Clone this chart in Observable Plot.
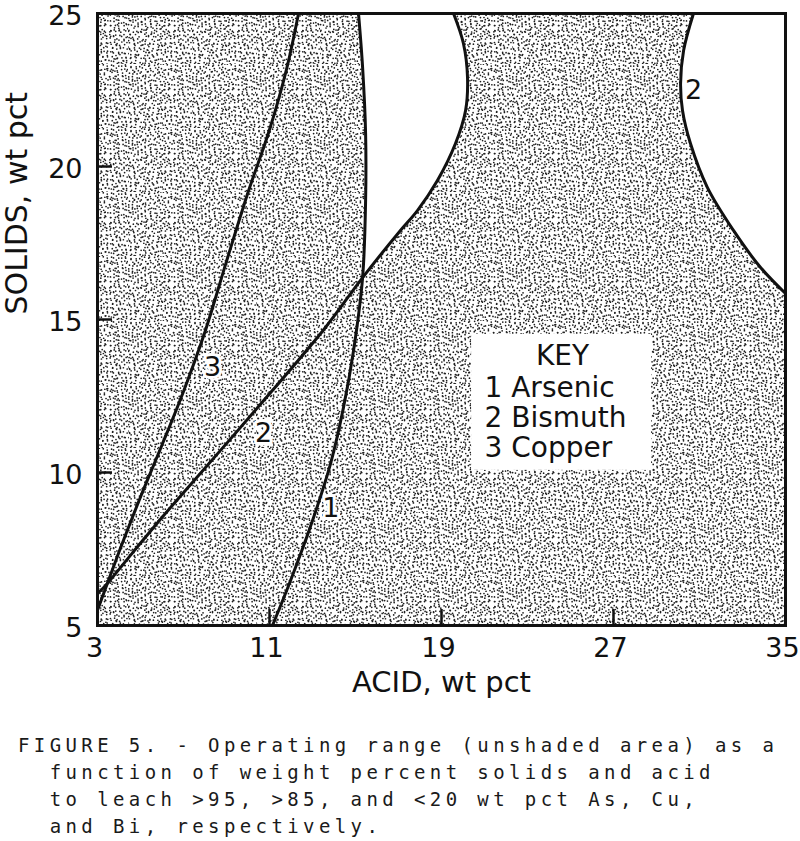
<!DOCTYPE html>
<html>
<head>
<meta charset="utf-8">
<script src="https://cdn.jsdelivr.net/npm/d3@7"></script>
<script src="https://cdn.jsdelivr.net/npm/@observablehq/plot@0.6"></script>
<style>
  html, body { margin: 0; padding: 0; background: #fff; }
  #chart svg { display: block; }
  #caption {
    font-family: "DejaVu Sans Mono", "Liberation Mono", monospace;
    font-size: 19px;
    letter-spacing: 4.4px;
    line-height: 27px;
    color: #1a1a1a;
    white-space: pre;
    padding: 22px 0 0 18px;
  }
</style>
</head>
<body>
<svg width="0" height="0" style="position:absolute">
  <defs><pattern id="stip" patternUnits="userSpaceOnUse" width="64" height="64"></pattern></defs>
</svg>
<div id="chart"></div>
<div id="caption"></div>
<script>
// ---------- data ----------
const xDomain = [3, 35];
const yDomain = [5, 25];
const xTicks = [3, 11, 19, 27, 35];
const yTicks = [5, 10, 15, 20, 25];

// Curve 1: Arsenic
const arsenicX = [11.14, 11.98, 13.05, 13.84, 14.44, 14.91, 15.33, 15.47, 15.47, 15.33, 15.14];
const arsenicY = [5, 6.47, 8.53, 10.29, 12.12, 13.99, 16.37, 18.89, 21.08, 23.24, 25];

// Curve 2: Bismuth (left branch)
const bismuthX = [3, 3.3, 4.6, 5.9, 7.2, 10.3, 13.5, 15.33, 17.09, 17.88, 18.81, 19.65, 20.12, 20.21, 20.02, 19.56];
const bismuthY = [6.05, 6.25, 7.35, 8.45, 9.5, 12.0, 14.65, 16.37, 17.91, 18.56, 19.54, 20.75, 21.83, 22.91, 24.02, 25];

// Curve 2: Bismuth (right branch)
const bismuthRightX = [30.72, 30.26, 30.12, 30.21, 30.58, 31.37, 32.58, 33.84, 35];
const bismuthRightY = [25, 23.79, 22.71, 21.83, 20.75, 19.31, 17.91, 16.70, 15.85];

// Curve 3: Copper
const copperX = [3, 4, 5, 6, 7, 8, 9, 10, 11, 11.8, 12.35];
const copperY = [5.5, 7.4, 9.2, 10.9, 12.65, 14.6, 16.9, 19.15, 21.2, 23.2, 25];

// Curve number labels
const curveLabelText = ["1", "2", "3", "2"];
const curveLabelX = [13.85, 10.72, 8.35, 30.72];
const curveLabelY = [8.82, 11.27, 13.43, 22.48];

// Key
const keyTitle = "KEY";
const keyItems = ["1 Arsenic", "2 Bismuth", "3 Copper"];

const axisLabelX = "ACID, wt pct";
const axisLabelY = "SOLIDS, wt pct";
const captionLines = [
  "FIGURE 5. - Operating range (unshaded area) as a",
  "  function of weight percent solids and acid",
  "  to leach >95, >85, and <20 wt pct As, Cu,",
  "  and Bi, respectively."
];

// ---------- stipple texture (deterministic) ----------
(function makeStipple() {
  const pat = document.getElementById("stip");
  const ns = "http://www.w3.org/2000/svg";
  const size = 64, n = 430;
  const frac = v => v - Math.floor(v);
  for (let i = 0; i < n; i++) {
    const jx = frac(Math.sin(i * 12.9898) * 43758.5453) - 0.5;
    const jy = frac(Math.sin(i * 78.233) * 24634.6345) - 0.5;
    const x = (frac(i * 0.7548776662466927) * size + jx * 3 + size) % size;
    const y = (frac(i * 0.5698402909980532) * size + jy * 3 + size) % size;
    const c = document.createElementNS(ns, "circle");
    c.setAttribute("cx", x.toFixed(2));
    c.setAttribute("cy", y.toFixed(2));
    c.setAttribute("r", "0.85");
    c.setAttribute("fill", "#1e1e1e");
    pat.appendChild(c);
  }
})();

// ---------- layout ----------
const W = 800, H = 710, mL = 97, mR = 15, mT = 13, mB = 85;
const xPerPx = (xDomain[1] - xDomain[0]) / (W - mL - mR);
const yPerPx = (yDomain[1] - yDomain[0]) / (H - mT - mB);

const pts = (xs, ys) => xs.map((x, i) => ({x, y: ys[i]}));
const arsenic = pts(arsenicX, arsenicY);
const bismuth = pts(bismuthX, bismuthY);
const bismuthRight = pts(bismuthRightX, bismuthRightY);
const copper = pts(copperX, copperY);
const crossY = arsenicY.find(y => bismuthY.includes(y));
const arsenicUpper = arsenic.filter(p => p.y >= crossY);
const bismuthUpper = bismuth.filter(p => p.y >= crossY);
const curveLabels = curveLabelText.map((t, i) => ({t, x: curveLabelX[i], y: curveLabelY[i]}));

const curve = "catmull-rom";
const toRight = {y: "y", x1: "x", x2: () => xDomain[1], curve};

const chart = Plot.plot({
  width: W, height: H,
  marginLeft: mL, marginRight: mR, marginTop: mT, marginBottom: mB,
  x: {domain: xDomain},
  y: {domain: yDomain},
  style: {fontFamily: "DejaVu Sans", fontSize: "28px", color: "#111", background: "white"},
  marks: [
    // shaded background over the whole frame
    Plot.areaX(yDomain, {y: d => d, x1: () => xDomain[0], x2: () => xDomain[1], fill: "url(#stip)"}),
    // unshaded operating range between arsenic and bismuth (upper)
    Plot.areaX(arsenicUpper, {...toRight, fill: "white"}),
    Plot.areaX(bismuthUpper, {...toRight, fill: "url(#stip)"}),
    // unshaded area right of the bismuth right branch
    Plot.areaX(bismuthRight, {...toRight, fill: "white"}),
    // curves
    Plot.line(copper, {x: "x", y: "y", stroke: "#111", strokeWidth: 3, curve}),
    Plot.line(bismuth, {x: "x", y: "y", stroke: "#111", strokeWidth: 3, curve}),
    Plot.line(arsenic, {x: "x", y: "y", stroke: "#111", strokeWidth: 3, curve}),
    Plot.line(bismuthRight, {x: "x", y: "y", stroke: "#111", strokeWidth: 3, curve}),
    // curve number labels
    Plot.text(curveLabels, {x: "x", y: "y", text: "t", fontSize: 27, fill: "#111",
      stroke: "white", strokeWidth: 6}),
    // key box
    Plot.rect([keyTitle], {x1: 20.40, x2: 28.77, y1: 10.07, y2: 14.51, fill: "white"}),
    Plot.text([keyTitle], {x: 24.63, y: 13.79, fontSize: 28, fill: "#111"}),
    Plot.text([keyItems.join("\n")], {x: 21.0, y: 11.8, textAnchor: "start", lineAnchor: "middle",
      lineHeight: 30 / 28, fontSize: 28, fill: "#111"}),
    // inward ticks
    Plot.ruleX(xTicks, {y1: yDomain[0], y2: yDomain[0] + 16 * yPerPx, stroke: "#111", strokeWidth: 2.5}),
    Plot.ruleY(yTicks, {x1: xDomain[0], x2: xDomain[0] + 15 * xPerPx, stroke: "#111", strokeWidth: 2.5}),
    // axes
    Plot.axisX(xTicks, {tickSize: 0, tickPadding: 12, label: null, fontSize: 27, dx: -3}),
    Plot.axisY(yTicks, {tickSize: 0, tickPadding: 15, label: null, fontSize: 27, dy: 3}),
    Plot.text([axisLabelX], {frameAnchor: "bottom", dy: 66, fontSize: 29, fill: "#111"}),
    Plot.text([axisLabelY], {frameAnchor: "left", dx: -80, dy: -5, rotate: -90, fontSize: 30, fill: "#111"}),
    Plot.frame({stroke: "#111", strokeWidth: 3})
  ]
});
document.getElementById("chart").appendChild(chart);
document.getElementById("caption").textContent = captionLines.join("\n");
</script>
</body>
</html>
